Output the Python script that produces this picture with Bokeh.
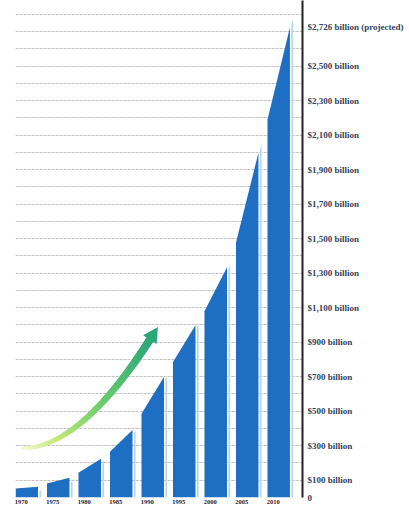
import numpy as np
from bokeh.plotting import figure
from bokeh.models import FixedTicker, ColumnDataSource
from bokeh.embed import file_html
from bokeh.resources import INLINE

# ---- data ----
years = [1970, 1975, 1980, 1985, 1990, 1995, 2000, 2005, 2010]
start_vals = [52, 81, 144, 265, 485, 785, 1080, 1477, 2190]   # value at left edge of each bar
end_vals = [63, 115, 225, 392, 698, 998, 1335, 2000, 2726]    # value at right edge of each bar
y_ticks = [0, 100, 300, 500, 700, 900, 1100, 1300, 1500, 1700, 1900, 2100, 2300, 2500, 2726]
y_labels = ["0", "$100 billion", "$300 billion", "$500 billion", "$700 billion", "$900 billion",
            "$1,100 billion", "$1,300 billion", "$1,500 billion", "$1,700 billion", "$1,900 billion",
            "$2,100 billion", "$2,300 billion", "$2,500 billion", "$2,726 billion (projected)"]

BAR_OFFSET = 0.9
BAR_W = 3.57
BLUE = "#1e6fc4"
SHADOW = "#b7d7ef"
LABEL_FONT = "Liberation Serif"

p = figure(width=409, height=508, output_backend="svg", toolbar_location=None,
           x_range=(1969.1, 2014.66), y_range=(0, 2881), y_axis_location="right",
           min_border_left=15, min_border_top=0, min_border_bottom=11, min_border_right=107)
p.outline_line_color = None
p.background_fill_color = "white"

# bars: shadow strips then trapezoid bars
sx, sy, bx, by = [], [], [], []
for yr, a, b in zip(years, start_vals, end_vals):
    l = yr - BAR_OFFSET
    r = l + BAR_W
    slope = (b - a) / BAR_W
    s0, s1 = r + 0.22, r + 0.5
    sx.append([s0, s1, s1, s0])
    sy.append([0, 0, a + slope * (s1 - l) - 25, a + slope * (s0 - l) - 25])
    bx.append([l, r, r, l])
    by.append([0, 0, b, a])
p.patches(sx, sy, fill_color=SHADOW, line_color=None)
p.patches(bx, by, fill_color=BLUE, line_color=None)

# curved gradient arrow (decoration)
P0 = np.array([1970.2, 285.0])
P1 = np.array([1979.5, 290.0])
P2 = np.array([1990.6, 925.0])
n = 70
t = np.linspace(0, 1, n + 1)
pts = ((1 - t) ** 2)[:, None] * P0 + (2 * (1 - t) * t)[:, None] * P1 + (t ** 2)[:, None] * P2
stops = [(0.0, (246, 251, 220)), (0.3, (196, 232, 120)), (0.65, (110, 205, 110)), (1.0, (44, 168, 120))]

def col(tt):
    for (t0, c0), (t1, c1) in zip(stops[:-1], stops[1:]):
        if tt <= t1:
            f = (tt - t0) / (t1 - t0)
            c = [int(round(c0[i] + f * (c1[i] - c0[i]))) for i in range(3)]
            return "#%02x%02x%02x" % tuple(c)
    return "#%02x%02x%02x" % stops[-1][1]

segs_x = [[pts[i, 0], pts[i + 1, 0]] for i in range(n)]
segs_y = [[pts[i, 1], pts[i + 1, 1]] for i in range(n)]
tm = (t[:-1] + t[1:]) / 2
src = ColumnDataSource(dict(xs=segs_x, ys=segs_y, c=[col(v) for v in tm],
                            w=list(3.5 + 4.5 * tm)))
p.multi_line("xs", "ys", source=src, line_color="c", line_width="w", line_cap="round")

# arrow head computed in pixel space
kx, ky = 6.3, 0.1725
d = np.array([(P2[0] - P1[0]) * kx, (P2[1] - P1[1]) * ky])
d = d / np.linalg.norm(d)
nrm = np.array([-d[1], d[0]])
base = np.array([(P2[0]) * kx, P2[1] * ky]) - d * 2
tip = base + d * 15
c1 = base + nrm * 8
c2 = base - nrm * 8
hx = [tip[0] / kx, c1[0] / kx, c2[0] / kx]
hy = [tip[1] / ky, c1[1] / ky, c2[1] / ky]
p.patch(hx, hy, fill_color="#2ca878", line_color=None)

# axes
p.xaxis.ticker = FixedTicker(ticks=years)
p.xaxis.axis_line_color = None
p.xaxis.major_tick_line_color = None
p.xaxis.minor_tick_line_color = None
p.xaxis.major_tick_out = 0
p.xaxis.major_tick_in = 0
p.xaxis.minor_tick_out = 0
p.xaxis.major_label_standoff = 2
p.xaxis.major_label_text_font = LABEL_FONT
p.xaxis.major_label_text_font_style = "bold"
p.xaxis.major_label_text_font_size = "6.5px"
p.xaxis.major_label_text_color = "#1f2530"

p.yaxis.ticker = FixedTicker(ticks=y_ticks)
p.yaxis.major_label_overrides = {k: v for k, v in zip(y_ticks, y_labels)}
p.yaxis.axis_line_color = "#222222"
p.yaxis.axis_line_width = 2
p.yaxis.major_tick_line_color = None
p.yaxis.minor_tick_line_color = None
p.yaxis.major_tick_out = 0
p.yaxis.major_tick_in = 0
p.yaxis.minor_tick_out = 0
p.yaxis.major_label_standoff = 5
p.yaxis.major_label_text_font = LABEL_FONT
p.yaxis.major_label_text_font_style = "bold"
p.yaxis.major_label_text_font_size = "9px"
p.yaxis.major_label_text_color = "#34425a"

p.xgrid.visible = False
p.ygrid.ticker = FixedTicker(ticks=list(range(100, 2900, 100)))
p.ygrid.grid_line_color = "#c2c2c2"
p.ygrid.grid_line_dash = "3 1"
p.ygrid.grid_line_width = 1

open("out.html", "w").write(file_html(p, INLINE))
